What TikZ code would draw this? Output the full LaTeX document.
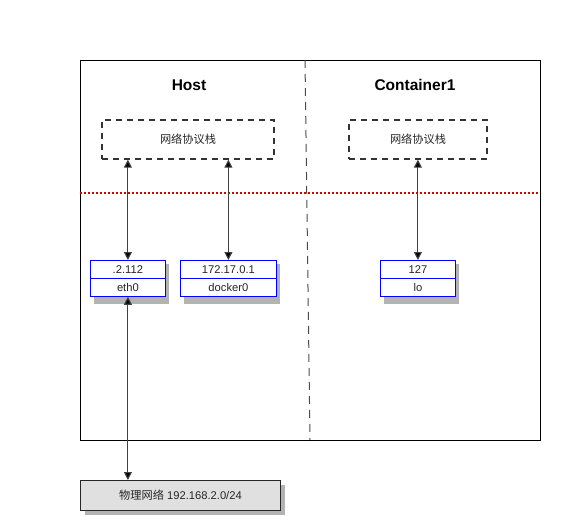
\documentclass[tikz,border=0pt]{standalone}
\usepackage{fontspec}
\setmainfont{Liberation Sans}
\newfontfamily\cjk{Noto Sans CJK SC}
\usetikzlibrary{arrows.meta}
\definecolor{shadowgray}{HTML}{B3B3B3}
\definecolor{physfill}{HTML}{E0E0E0}
\definecolor{stackgray}{HTML}{333333}
\tikzset{
  title/.style={font=\bfseries\fontsize{15.5}{18}\selectfont},
  small/.style={font=\fontsize{11.2}{13}\selectfont, text=black!85},
  stackbox/.style={draw=stackgray, line width=1.3pt, dash pattern=on 6pt off 5pt, minimum width=#1, minimum height=39pt, inner sep=0pt},
  ifpart/.style={draw=blue, fill=white, line width=0.8pt, minimum width=#1, minimum height=18pt, inner sep=0pt},
  link/.style={draw=black!75, line width=1.1pt, {Triangle[length=8pt,width=8pt,fill=black]}-{Triangle[length=8pt,width=8pt,fill=black]}},
}
\begin{document}
\begin{tikzpicture}[x=1pt,y=-1pt]
\useasboundingbox (0,0) rectangle (575,530);
% outer frame
\draw[black, line width=0.9pt] (80,60) rectangle (540,440);
% vertical dashed separator
\coordinate (vtop) at (305,60);
\coordinate (vbot) at (310,440);
\draw[black!70, line width=1pt, dash pattern=on 8pt off 6pt] (vtop) -- (vbot);
% red dotted line
\coordinate (rl) at (80,193);
\coordinate (rr) at (538,193);
\draw[red!85!black, line width=1.5pt, dash pattern=on 2pt off 2pt] (rl) -- (rr);
% titles
\node[title] (host) at (189,85) {Host};
\node[title] (cont) at (415,85) {Container1};
% stacks
\node[stackbox=172pt, small] (hstack) at (188,139.5) {\cjk 网络协议栈};
\node[stackbox=138pt, small] (cstack) at (418,139.5) {\cjk 网络协议栈};
% shadows
\fill[shadowgray] (94,264) rectangle (169,304);
\fill[shadowgray] (184,264) rectangle (280,304);
\fill[shadowgray] (384,264) rectangle (459,304);
\fill[shadowgray] (85,485) rectangle (285,515);
% interfaces
\node[ifpart=75pt, small, anchor=north west] (ethip) at (90,260) {.2.112};
\node[ifpart=75pt, small, anchor=north west] (eth) at (90,278) {eth0};
\node[ifpart=96pt, small, anchor=north west] (dip) at (180,260) {172.17.0.1};
\node[ifpart=96pt, small, anchor=north west] (dock) at (180,278) {docker0};
\node[ifpart=75pt, small, anchor=north west] (loip) at (380,260) {127};
\node[ifpart=75pt, small, anchor=north west] (lo) at (380,278) {lo};
% physical network
\node[draw=black!85, fill=physfill, line width=1pt, minimum width=200pt, minimum height=30pt, inner sep=0pt, anchor=north west, small] (phys) at (80,480) {{\cjk 物理网络} 192.168.2.0/24};
% links
\draw[link] (hstack.south -| ethip.north) -- (ethip.north);
\draw[link] (hstack.south -| dip.north) -- (dip.north);
\draw[link] (cstack.south -| loip.north) -- (loip.north);
\draw[link] (eth.south) -- (phys.north -| eth.south);
\end{tikzpicture}
\end{document}
